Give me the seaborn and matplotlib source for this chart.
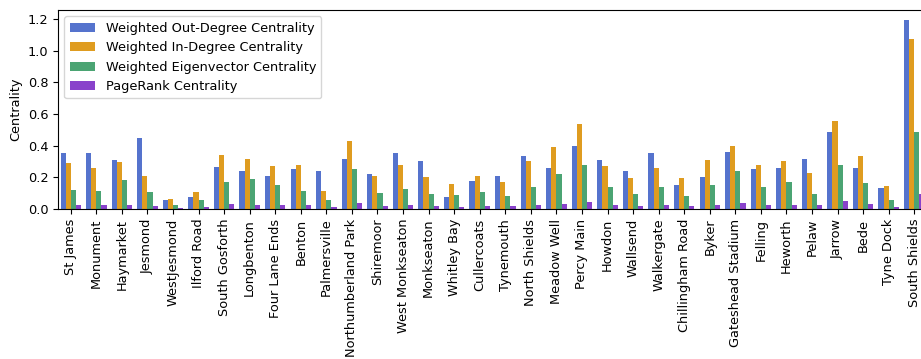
import matplotlib
matplotlib.use("Agg")
import matplotlib.pyplot as plt
import seaborn as sns
import pandas as pd

stations = [
    "St James", "Monument", "Haymarket", "Jesmond", "WestJesmond", "Ilford Road",
    "South Gosforth", "Longbenton", "Four Lane Ends", "Benton", "Palmersville",
    "Northumberland Park", "Shiremoor", "West Monkseaton", "Monkseaton",
    "Whitley Bay", "Cullercoats", "Tynemouth", "North Shields", "Meadow Well",
    "Percy Main", "Howdon", "Wallsend", "Walkergate", "Chillingham Road", "Byker",
    "Gateshead Stadium", "Felling", "Heworth", "Pelaw", "Jarrow", "Bede",
    "Tyne Dock", "South Shields",
]

out_degree = [
    0.354, 0.354, 0.310, 0.448, 0.059, 0.078, 0.266, 0.241, 0.210, 0.253,
    0.241, 0.316, 0.222, 0.354, 0.304, 0.078, 0.178, 0.210, 0.335, 0.260,
    0.398, 0.310, 0.241, 0.354, 0.153, 0.203, 0.360, 0.254, 0.260, 0.316,
    0.486, 0.260, 0.134, 1.196,
]
in_degree = [
    0.291, 0.260, 0.297, 0.210, 0.065, 0.109, 0.341, 0.316, 0.272, 0.279,
    0.115, 0.430, 0.210, 0.279, 0.203, 0.159, 0.210, 0.172, 0.304, 0.392,
    0.536, 0.272, 0.197, 0.260, 0.197, 0.310, 0.398, 0.279, 0.304, 0.228,
    0.555, 0.335, 0.147, 1.071,
]
eigenvector = [
    0.122, 0.115, 0.184, 0.109, 0.027, 0.059, 0.172, 0.191, 0.153, 0.115,
    0.059, 0.254, 0.103, 0.128, 0.096, 0.090, 0.109, 0.084, 0.140, 0.222,
    0.279, 0.140, 0.096, 0.140, 0.084, 0.153, 0.241, 0.140, 0.172, 0.096,
    0.279, 0.166, 0.059, 0.486,
]
pagerank = [
    0.027, 0.027, 0.027, 0.021, 0.008, 0.015, 0.034, 0.027, 0.027, 0.027,
    0.015, 0.040, 0.021, 0.027, 0.021, 0.015, 0.021, 0.021, 0.027, 0.034,
    0.046, 0.027, 0.021, 0.027, 0.021, 0.027, 0.040, 0.027, 0.027, 0.027,
    0.052, 0.034, 0.015, 0.096,
]

measures = [
    "Weighted Out-Degree Centrality",
    "Weighted In-Degree Centrality",
    "Weighted Eigenvector Centrality",
    "PageRank Centrality",
]
colors = ["royalblue", "orange", "mediumseagreen", "blueviolet"]

df = pd.DataFrame({
    "Station": stations,
    measures[0]: out_degree,
    measures[1]: in_degree,
    measures[2]: eigenvector,
    measures[3]: pagerank,
})
long_df = df.melt(id_vars="Station", var_name="Measure", value_name="Centrality")

plt.rcParams["font.size"] = 9.3

W, H = 921, 359
fig = plt.figure(figsize=(W / 100, H / 100), dpi=100)
ax = fig.add_axes([58 / W, (H - 209) / H, (927 - 58) / W, (209 - 10) / H])

sns.barplot(
    data=long_df, x="Station", y="Centrality", hue="Measure",
    hue_order=measures, palette=colors, ax=ax,
)

ax.set_xlabel("")
ax.set_ylabel("Centrality")
ax.set_ylim(0, 1.256)
ax.tick_params(axis="both", labelsize=9.3)
ax.tick_params(axis="x", rotation=90)
ax.legend(loc="upper left", title=None, fontsize=9.3)

fig.savefig("out.png", dpi=100)
